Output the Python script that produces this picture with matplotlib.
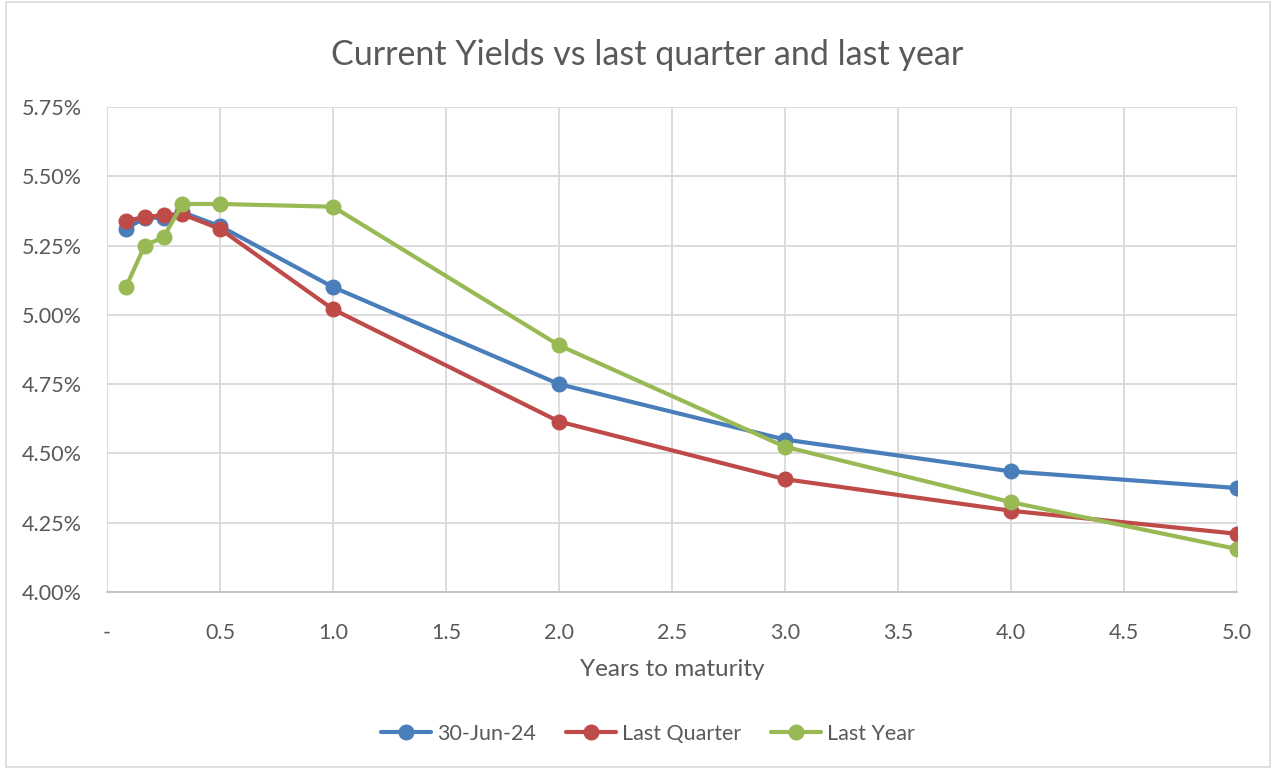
import matplotlib.pyplot as plt
import matplotlib.patches as mpatches
from matplotlib.ticker import FuncFormatter, MultipleLocator

plt.rcParams['font.family'] = ['Lato', 'DejaVu Sans']

# years to maturity (1m, 2m, 3m, 4m, 6m, 1y..5y)
years = [1/12, 2/12, 3/12, 4/12, 0.5, 1.0, 2.0, 3.0, 4.0, 5.0]

# yields in %
current = [5.31, 5.35, 5.35, 5.37, 5.32, 5.10, 4.75, 4.55, 4.435, 4.375]
last_quarter = [5.34, 5.352, 5.36, 5.363, 5.31, 5.02, 4.615, 4.407, 4.293, 4.21]
last_year = [5.10, 5.25, 5.28, 5.40, 5.40, 5.39, 4.89, 4.524, 4.324, 4.155]

series_names = ['30-Jun-24', 'Last Quarter', 'Last Year']
colors = ['#4A7EBB', '#BE4B48', '#98B954']

txt = '#595959'
grid = '#D9D9D9'

fig = plt.figure(figsize=(12.76, 7.69), dpi=100)
ax = fig.add_axes([0.0839, 0.2302, 0.8855, 0.6307])

for vals, name, c in zip([current, last_quarter, last_year], series_names, colors):
    ax.plot(years, vals, color=c, linewidth=3.0, marker='o', markersize=10.5,
            label=name, solid_capstyle='round')

ax.set_xlim(0, 5)
ax.set_ylim(4.0, 5.75)
ax.xaxis.set_major_locator(MultipleLocator(0.5))
ax.yaxis.set_major_locator(MultipleLocator(0.25))
ax.xaxis.set_major_formatter(FuncFormatter(lambda v, p: '-' if abs(v) < 1e-9 else f'{v:.1f}'))
ax.yaxis.set_major_formatter(FuncFormatter(lambda v, p: f'{v:.2f}%'))

ax.grid(True, color=grid, linewidth=1.3)
ax.set_axisbelow(True)
for s in ['top', 'right', 'left']:
    ax.spines[s].set_visible(False)
ax.spines['bottom'].set_color('#BFBFBF')
ax.spines['bottom'].set_linewidth(1.3)
ax.tick_params(length=0, labelsize=15.5, colors=txt)
ax.tick_params(axis='x', pad=22)
ax.tick_params(axis='y', pad=18)

ax.set_xlabel('Years to maturity', fontsize=17.5, color=txt, labelpad=12)
fig.text(0.507, 0.928, 'Current Yields vs last quarter and last year',
         ha='center', va='center', fontsize=24.5, color=txt)

fig.legend(loc='center', bbox_to_anchor=(0.508, 0.046), ncol=3, frameon=False,
           fontsize=15.5, labelcolor=txt, handlelength=2.3, columnspacing=1.4,
           handletextpad=0.3)

fig.patches.append(mpatches.Rectangle((0.005, 0.002), 0.99, 0.996, transform=fig.transFigure,
                                      fill=False, edgecolor='#D9D9D9', linewidth=1.2))

plt.savefig('out.png', dpi=100)
